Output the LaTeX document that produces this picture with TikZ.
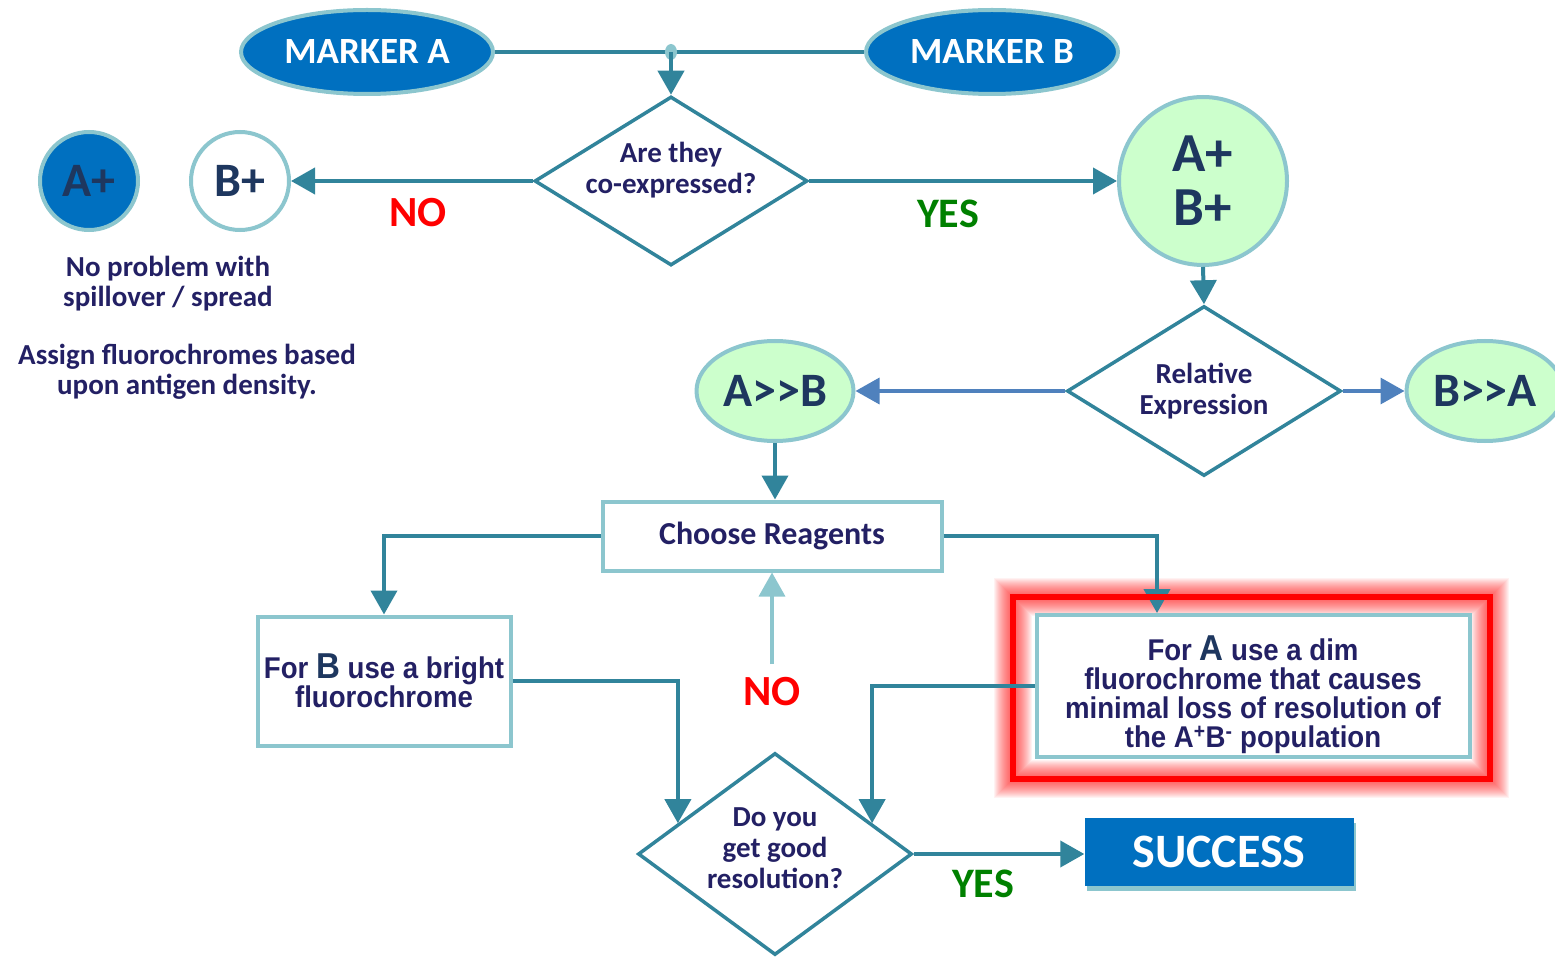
\documentclass[tikz,border=0pt]{standalone}
\usepackage{fontspec}
\setmainfont{Carlito}
\newfontfamily\boxfont{Liberation Sans}[FakeStretch=0.92]
\usetikzlibrary{arrows.meta, positioning, calc, shapes.geometric, shadows, backgrounds}
\definecolor{TealLine}{RGB}{49,132,155}
\definecolor{PaleTeal}{RGB}{140,198,206}
\definecolor{MarkerBlue}{RGB}{0,112,192}
\definecolor{PaleGreen}{RGB}{204,255,204}
\definecolor{InkNavy}{RGB}{35,32,100}
\definecolor{DeepNavy}{RGB}{30,55,95}
\definecolor{SteelBlue}{RGB}{79,129,189}
\definecolor{YesGreen}{RGB}{0,128,0}

\tikzset{
  markeroval/.style={ellipse, draw=PaleTeal, line width=4pt, fill=MarkerBlue, minimum width=252pt, minimum height=84pt, text=white, font=\bfseries\fontsize{37}{40}\selectfont},
  decide/.style={diamond, draw=TealLine, line width=3.5pt, fill=white, inner xsep=-30pt, inner ysep=-20pt, align=center, text=InkNavy, font=\bfseries\fontsize{29}{31}\selectfont},
  popcircle/.style={circle, draw=PaleTeal, line width=4pt, inner sep=0pt, text=DeepNavy},
  popoval/.style={ellipse, draw=PaleTeal, line width=4pt, fill=PaleGreen, minimum width=157pt, minimum height=100pt, inner sep=0pt, text=DeepNavy, font=\bfseries\fontsize{48}{50}\selectfont},
  reagentbox/.style={rectangle, draw=PaleTeal, line width=4pt, fill=white, align=center, text=InkNavy},
  flow/.style={draw=TealLine, line width=4pt, -{Triangle[length=24pt,width=26pt]}},
  flowblue/.style={draw=SteelBlue, line width=3.5pt, -{Triangle[length=24pt,width=26pt]}},
  nolabel/.style={text=red, font=\bfseries\fontsize{43}{45}\selectfont},
  yeslabel/.style={text=YesGreen, font=\bfseries\fontsize{42}{45}\selectfont},
  note/.style={align=center, text=InkNavy, font=\bfseries\fontsize{29}{30}\selectfont}
}

\begin{document}
\begin{tikzpicture}[x=1pt, y=-1pt]
        \useasboundingbox (0,0) rectangle (1555,957);

        % Markers on top
        \node[markeroval] (ma) at (367,52) {MARKER A};
        \node[markeroval] (mb) at (992,52) {MARKER B};
        \draw[TealLine, line width=4pt] (ma.east) -- (mb.west);
        \node[ellipse, fill=PaleTeal, minimum width=12pt, minimum height=16pt, inner sep=0pt] (jn) at (671,52) {};

        % First question
        \node[decide, minimum width=273pt, minimum height=169pt, aspect=1.6] (coexp) at (671,181) {Are they\\co-expressed?\rule[-27pt]{0pt}{1pt}};
        \draw[flow] (jn.center) -- (coexp.north);

        % Not co-expressed
        \node[popcircle, fill=MarkerBlue, minimum size=98pt, font=\bfseries\fontsize{48}{50}\selectfont] (aplus) at (89,181) {A+};
        \node[popcircle, fill=white, minimum size=98pt, font=\bfseries\fontsize{48}{50}\selectfont] (bplus) at (240,181) {B+};
        \draw[flow] (coexp.west) -- (bplus.east);
        \node[nolabel] (nofirst) at (418,213) {NO};
        \node[note] (noproblem) at (168,284) {No problem with\\spillover / spread};
        \node[note] (assign) at (187,372) {Assign fluorochromes based\\upon antigen density.};

        % Co-expressed
        \node[popcircle, fill=PaleGreen, minimum size=168pt, align=center, font=\bfseries\fontsize{55}{54}\selectfont] (both) at (1203,181) {A+\\B+};
        \draw[flow] (coexp.east) -- (both.west);
        \node[yeslabel] (yesfirst) at (948,214) {YES};

        % Relative expression
        \node[decide, minimum width=274pt, minimum height=170pt, aspect=1.6] (relexp) at (1204,391) {Relative\\Expression};
        \draw[flow] (both.south) -- (relexp.north);
        \node[popoval] (agb) at (775,391) {A>{}>B};
        \node[popoval] (bga) at (1485,391) {B>{}>A};
        \draw[flowblue] (relexp.west) -- (agb.east);
        \draw[flowblue] (relexp.east) -- (bga.west);

        % Reagents
        \node[reagentbox, minimum width=339pt, minimum height=69pt, font=\bfseries\fontsize{32}{34}\selectfont] (reag) at (772,536) {Choose Reagents};
        \draw[flow] (agb.south) -- (agb.south |- reag.north);
        \node[reagentbox, minimum width=253pt, minimum height=129pt, font=\boxfont\bfseries\fontsize{30}{29}\selectfont] (bbox) at (384,681)
            {For {\fontsize{36}{29}\selectfont\color{DeepNavy}B} use a bright\\fluorochrome};
        \node[reagentbox, minimum width=433pt, minimum height=134pt, font=\boxfont\bfseries\fontsize{30}{29}\selectfont] (abox) at (1253,686)
            {\rule{0pt}{42pt}For {\fontsize{36}{29}\selectfont\color{DeepNavy}A} use a dim\\fluorochrome that causes\\minimal loss of resolution of\\the A\textsuperscript{+}B\textsuperscript{-} population};
        \draw[flow] (reag.west) -| (bbox.north);
        \draw[flow] (reag.east) -| ([xshift=-96pt]abox.north);

        % Red glowing frame
        \begin{scope}[on background layer]
          \foreach \w in {6,8,...,38}
            \draw[red, opacity=0.05, line width=\w pt] (1013,597) rectangle (1490,779);
        \end{scope}
        \draw[red, line width=6pt] (1013,597) rectangle (1490,779);

        % Resolution check
        \node[decide, minimum width=274pt, minimum height=202pt, aspect=1.36] (resol) at (775,854) {Do you\\get good\\resolution?\rule[-12pt]{0pt}{1pt}};
        \draw[flow] (bbox.east) -| ($(resol.west)!0.3!(resol.north)$);
        \draw[flow] (abox.west) -| ($(resol.east)!0.3!(resol.north)$);
        \node[nolabel] (nosecond) at (772,692) {NO};
        \draw[draw=PaleTeal, line width=3.5pt, -{Triangle[length=24pt,width=26pt]}] ([yshift=10pt]nosecond.north) -- (reag.south);

        % Success
        \node[rectangle, fill=MarkerBlue, minimum width=269pt, minimum height=68pt, text=white, font=\bfseries\fontsize{48}{50}\selectfont,
              general shadow={fill=PaleTeal, shadow xshift=2pt, shadow yshift=-5pt}] (success) at (1219,852) {SUCCESS};
        \draw[flow] (resol.east) -- (resol.east -| success.west);
        \node[yeslabel] (yessecond) at (983,884) {YES};
\end{tikzpicture}
\end{document}
